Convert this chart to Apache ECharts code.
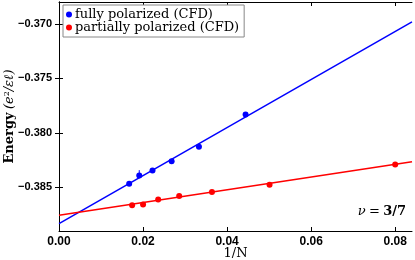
<!DOCTYPE html>
<html><head><meta charset="utf-8">
<script src="https://cdn.jsdelivr.net/npm/echarts@6/dist/echarts.min.js"></script>
<style>html,body{margin:0;padding:0;background:#fff}#c{width:415px;height:260px}</style>
</head><body><div id="c"></div>
<script>
// Data
const fullyX = [0.0167, 0.0191, 0.02225, 0.0268, 0.0333, 0.0444];
const fullyY = [-0.38466, -0.3839, -0.38345, -0.3826, -0.38128, -0.37832];
const fullyErrTop = [null, -0.38342, null, null, null, null];
const partX = [0.0174, 0.0200, 0.0236, 0.0286, 0.0364, 0.0501, 0.0800];
const partY = [-0.38665, -0.38658, -0.3861, -0.3858, -0.38543, -0.38476, -0.3829];
const fitX = [0, 0.084];
const fullyFit = [-0.38832, -0.36982];
const partFit = [-0.38756, -0.38265];
const xTicks = [0, 0.02, 0.04, 0.06, 0.08];
const yTicks = [-0.385, -0.380, -0.375, -0.370];

const pair = (xs, ys) => xs.map((x, i) => [x, ys[i]]);
const errSeries = [];
fullyErrTop.forEach((t, i) => {
  if (t !== null) errSeries.push({
    type: 'line', xAxisIndex: 0, yAxisIndex: 0, silent: true, symbol: 'none',
    data: [[fullyX[i], fullyY[i]], [fullyX[i], t]],
    lineStyle: { color: '#0000ff', width: 1 }, z: 3
  });
});

const sans = '"Liberation Sans", Arial, sans-serif';
const serif = '"DejaVu Serif", serif';
const fmtY = v => (v < 0 ? '\u2212' : '') + Math.abs(v).toFixed(3);

const chart = echarts.init(document.getElementById('c'), null, { renderer: 'canvas' });
chart.setOption({
  animation: false,
  backgroundColor: '#fff',
  grid: { left: 59, top: 2, right: 3, bottom: 29, containLabel: false, outerBoundsMode: 'none' },
  legend: {
    orient: 'vertical', left: 63, top: 5,
    data: ['fully polarized (CFD)', 'partially polarized (CFD)'],
    icon: 'circle', itemWidth: 6, itemHeight: 6, itemGap: 0,
    padding: [3, 5, 3, 3],
    borderColor: '#888', borderWidth: 1, borderRadius: 0,
    backgroundColor: '#fff',
    textStyle: { fontFamily: serif, fontSize: 13, color: '#000', padding: [0, 0, 0, -2] }
  },
  xAxis: [{
    type: 'value', min: 0, max: 0.084, position: 'bottom',
    name: '1/N', nameLocation: 'middle', nameGap: 16, nameMoveOverlap: false,
    nameTextStyle: { fontFamily: serif, fontSize: 13, color: '#000' },
    axisLine: { show: true, lineStyle: { color: '#000', width: 1 } },
    axisTick: { show: true, inside: true, length: 4, customValues: xTicks, lineStyle: { color: '#000' } },
    axisLabel: { customValues: xTicks, formatter: v => v.toFixed(2), fontFamily: sans, fontWeight: 'bold', fontSize: 12, color: '#000', margin: 5 },
    splitLine: { show: false }
  }, {
    type: 'value', min: 0, max: 0.084, position: 'top',
    axisLine: { show: true, lineStyle: { color: '#000', width: 1 } },
    axisTick: { show: true, inside: true, length: 4, customValues: xTicks, lineStyle: { color: '#000' } },
    axisLabel: { show: false }, splitLine: { show: false }
  }],
  yAxis: [{
    type: 'value', min: -0.389, max: -0.368, position: 'left',
    name: '{b|Energy} {i|(e}{s|2}{i|/\u03b5\u2113)}',
    nameLocation: 'middle', nameGap: 42, nameRotate: 90, nameMoveOverlap: false,
    nameTextStyle: {
      color: '#000',
      rich: {
        b: { fontFamily: serif, fontWeight: 'bold', fontSize: 13, color: '#000' },
        i: { fontFamily: serif, fontStyle: 'italic', fontSize: 13, color: '#000' },
        s: { fontFamily: serif, fontSize: 8, color: '#000', verticalAlign: 'bottom', padding: [0, 0, 6, 0] }
      }
    },
    axisLine: { show: true, lineStyle: { color: '#000', width: 1 } },
    axisTick: { show: true, inside: true, length: 4, customValues: yTicks, lineStyle: { color: '#000' } },
    axisLabel: { customValues: yTicks, formatter: fmtY, fontFamily: sans, fontWeight: 'bold', fontSize: 11, color: '#000', margin: 7 },
    splitLine: { show: false }
  }, {
    type: 'value', min: -0.389, max: -0.368, position: 'right',
    axisLine: { show: true, lineStyle: { color: '#000', width: 1 } },
    axisTick: { show: true, inside: true, length: 4, customValues: yTicks, lineStyle: { color: '#000' } },
    axisLabel: { show: false }, splitLine: { show: false }
  }],
  graphic: [{
    type: 'text', right: 9, top: 205, z: 10,
    style: {
      text: '{i|\u03bd} {n|=} {b|3/7}',
      rich: {
        i: { fontFamily: serif, fontStyle: 'italic', fontSize: 13, fill: '#000' },
        n: { fontFamily: serif, fontSize: 13, fill: '#000' },
        b: { fontFamily: serif, fontWeight: 'bold', fontSize: 13, fill: '#000' }
      }
    }
  }],
  series: [{
    name: 'fully fit', type: 'line', symbol: 'none', data: pair(fitX, fullyFit),
    lineStyle: { color: '#0000ff', width: 1.5 }, z: 2, silent: true
  }, {
    name: 'partial fit', type: 'line', symbol: 'none', data: pair(fitX, partFit),
    lineStyle: { color: '#ff0000', width: 1.5 }, z: 2, silent: true
  }, ...errSeries, {
    name: 'fully polarized (CFD)', type: 'scatter', symbol: 'circle', symbolSize: 6,
    data: pair(fullyX, fullyY), itemStyle: { color: '#0000ff', opacity: 1 }, z: 4
  }, {
    name: 'partially polarized (CFD)', type: 'scatter', symbol: 'circle', symbolSize: 6,
    data: pair(partX, partY), itemStyle: { color: '#ff0000', opacity: 1 }, z: 4
  }]
});
</script></body></html>
